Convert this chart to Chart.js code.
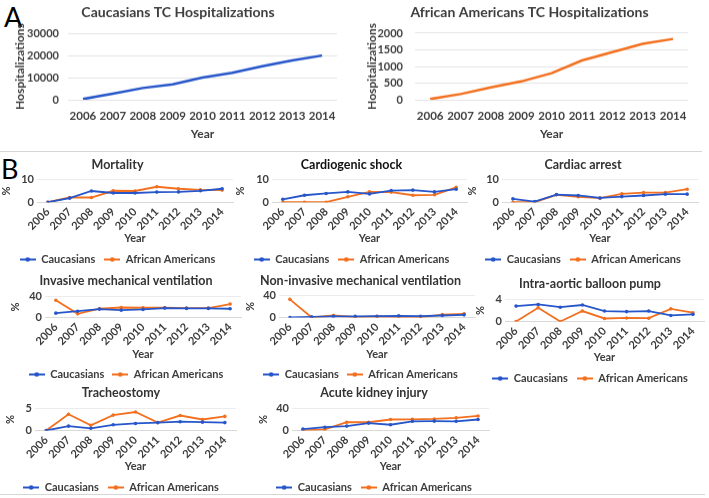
<!DOCTYPE html>
<html>
<head>
<meta charset="utf-8">
<script src="https://cdn.jsdelivr.net/npm/chart.js"></script>
<style>
    body{ margin:0; background:#fff; width:709px; height:498px; position:relative; overflow:hidden; font-family:Lato, sans-serif; }
    .box{ position:absolute; }
    .lbl{ position:absolute; font-size:27px; color:#000; line-height:1; }
    .sep{ position:absolute; height:1px; background:#d6d6d6; }
</style>
</head>
<body>
<div class="lbl" style="left:4px;top:3px">A</div>
<div class="lbl" style="left:1px;top:155px">B</div>
<div class="sep" style="left:0;top:151px;width:702px"></div>
<div class="sep" style="left:0;top:494px;width:705px"></div>

<div class="box" id="b_cauTC"><canvas id="cauTC"></canvas></div>
<div class="box" id="b_aaTC"><canvas id="aaTC"></canvas></div>
<div class="box" id="b_mort"><canvas id="mort"></canvas></div>
<div class="box" id="b_shock"><canvas id="shock"></canvas></div>
<div class="box" id="b_arrest"><canvas id="arrest"></canvas></div>
<div class="box" id="b_imv"><canvas id="imv"></canvas></div>
<div class="box" id="b_nimv"><canvas id="nimv"></canvas></div>
<div class="box" id="b_iabp"><canvas id="iabp"></canvas></div>
<div class="box" id="b_trach"><canvas id="trach"></canvas></div>
<div class="box" id="b_aki"><canvas id="aki"></canvas></div>

<script>
    const years = ['2006', '2007', '2008', '2009', '2010', '2011', '2012', '2013', '2014'];

    // panel A: hospitalizations
    const cauHosp = [300, 2700, 5300, 7000, 10000, 12200, 15200, 17800, 20000];
    const aaHosp = [20, 170, 370, 550, 800, 1180, 1430, 1680, 1830];
    const cauHospTicks = [0, 10000, 20000, 30000];
    const aaHospTicks = [0, 500, 1000, 1500, 2000];

    // panel B: outcomes in %
    const mortCau = [0, 1.8, 5, 4.1, 4.1, 4.5, 4.6, 5.1, 6];
    const mortAA = [0, 2.1, 2.1, 5.1, 5, 6.9, 6, 5.5, 5.4];
    const shockCau = [1.3, 3.1, 3.9, 4.6, 3.7, 5.2, 5.4, 4.6, 5.8];
    const shockAA = [0, 0, 0, 2.4, 4.6, 4.5, 3.1, 3.3, 6.6];
    const arrestCau = [1.5, 0.3, 3.4, 3, 1.9, 2.5, 3, 3.6, 3.6];
    const arrestAA = [0, 0, 3.3, 2.4, 1.8, 3.7, 4.3, 4.3, 5.8];
    const imvCau = [8.3, 12, 16, 14, 15.4, 18, 17.3, 17.3, 16.7];
    const imvAA = [33, 7, 16.7, 19, 18.6, 18.6, 18, 18, 25.6];
    const nimvCau = [0, 1.2, 2, 2, 2.4, 3, 2.4, 3.6, 4.8];
    const nimvAA = [33, 0, 3.6, 0.5, 1.8, 0.6, 0.3, 5.4, 6.6];
    const iabpCau = [2.8, 3.1, 2.6, 3, 1.9, 1.8, 1.9, 1.1, 1.3];
    const iabpAA = [0, 2.5, 0, 1.9, 0.55, 0.65, 0.6, 2.3, 1.6];
    const trachCau = [0, 1, 0.5, 1.3, 1.6, 1.8, 2, 1.9, 1.8];
    const trachAA = [0, 3.7, 1.2, 3.5, 4.2, 1.8, 3.4, 2.5, 3.2];
    const akiCau = [2.5, 6, 8, 13.5, 10.5, 16.7, 17, 16.7, 20];
    const akiAA = [0, 2, 15, 15, 20, 20.4, 21, 23, 26.5];

    const ticks10 = [0, 5, 10];
    const ticks40 = [0, 20, 40];
    const ticks4 = [0, 2, 4];
    const ticks5 = [0, 5];

    const BLUE = '#2656c9';
    const ORANGE = '#f2701f';
    const TXT = '#3d3d3d';
    const FONT = 'Lato, sans-serif';

    // little "line with a dot" swatch for the legend, like excel
    function swatch(color){
        const c = document.createElement('canvas');
        c.width = 16; c.height = 7;
        const g = c.getContext('2d');
        g.strokeStyle = color; g.lineWidth = 2;
        g.beginPath(); g.moveTo(0, 3.5); g.lineTo(16, 3.5); g.stroke();
        g.fillStyle = color;
        g.beginPath(); g.arc(8, 3.5, 2.3, 0, Math.PI * 2); g.fill();
        return c;
    }
    const swatches = [swatch(BLUE), swatch(ORANGE)];

    function place(id, left, top, width, height){
        const b = document.getElementById('b_' + id);
        b.style.left = left + 'px';
        b.style.top = top + 'px';
        b.style.width = width + 'px';
        b.style.height = height + 'px';
    }

    function bigChart(id, g, title, data, color, tks){
        const tLH = 14 * 1.2;
        const top = g.titleY - tLH / 2;
        const left = g.plotLeft - g.yW;
        const xH = g.yearY + 7.2 - g.plotBottom;
        const height = g.plotBottom + xH - top;
        place(id, left, top, g.plotRight + 2 - left, height);
        new Chart(document.getElementById(id), {
            type: 'line',
            data: {
                labels: years,
                datasets: [{ data: data, borderColor: color, borderWidth: 2.5, pointRadius: 0, tension: 0, fill: false }]
            },
            options: {
                responsive: true, maintainAspectRatio: false, animation: false,
                layout: { padding: { left: 0, right: 2, top: 0, bottom: 0 } },
                plugins: {
                    legend: { display: false },
                    tooltip: { enabled: false },
                    title: { display: true, text: title, color: TXT,
                        font: { family: FONT, size: 14, weight: 'bold' },
                        padding: { top: 0, bottom: g.plotTop - (top + tLH) } }
                },
                scales: {
                    x: {
                        offset: true,
                        grid: { display: false, drawTicks: false },
                        border: { display: false },
                        ticks: { color: TXT, font: { family: FONT, size: 11.5, weight: 'bold' }, padding: 9.5, maxRotation: 0, minRotation: 0, autoSkip: false },
                        title: { display: true, text: 'Year', color: TXT, font: { family: FONT, size: 12, weight: 'bold' }, padding: 0 },
                        afterFit: s => { s.height = xH; }
                    },
                    y: {
                        min: tks[0], max: tks[tks.length - 1],
                        grid: { color: '#e4e4e4', drawTicks: false },
                        border: { display: false },
                        ticks: { stepSize: tks[1] - tks[0], color: TXT, font: { family: FONT, size: 11, weight: 'bold' }, padding: g.tickPad,
                            callback: v => String(v) },
                        title: { display: true, text: 'Hospitalizations', color: TXT, font: { family: FONT, size: 12, weight: 'bold' }, padding: 0 },
                        afterFit: s => { s.width = g.yW; }
                    }
                }
            }
        });
    }

    function smallChart(id, g, title, cau, aa, tks, heavy){
        const fs = 12.5;
        const tLH = fs * 1.2;
        const top = g.titleY - tLH / 2;
        const left = g.plotLeft - g.yW;
        const xH = g.yearY + 6.6 - g.plotBottom;
        const legTop = g.plotBottom + xH;
        const lp = g.legendY - legTop - 5.5;
        const height = legTop + 11 + lp + 10 - top;
        place(id, left, top, g.plotRight + 2 - left, height);
        new Chart(document.getElementById(id), {
            type: 'line',
            data: {
                labels: years,
                datasets: [
                    { label: 'Caucasians', data: cau, borderColor: BLUE, backgroundColor: BLUE, borderWidth: 1.8, pointRadius: 1.8, pointBorderWidth: 0, tension: 0 },
                    { label: 'African Americans', data: aa, borderColor: ORANGE, backgroundColor: ORANGE, borderWidth: 1.8, pointRadius: 1.8, pointBorderWidth: 0, tension: 0 }
                ]
            },
            options: {
                responsive: true, maintainAspectRatio: false, animation: false,
                layout: { padding: { left: 0, right: 2, top: 0, bottom: 0 } },
                plugins: {
                    tooltip: { enabled: false },
                    title: { display: true, text: title, color: heavy ? '#111' : '#333',
                        font: { family: FONT, size: fs, weight: 'bold' },
                        padding: { top: 0, bottom: g.plotTop - (top + tLH) } },
                    legend: {
                        position: 'bottom',
                        labels: {
                            color: TXT, font: { family: FONT, size: 11, weight: 'bold' },
                            padding: lp, usePointStyle: true, pointStyleWidth: 16,
                            generateLabels: chart => Chart.defaults.plugins.legend.labels.generateLabels(chart)
                                .map((it, i) => Object.assign(it, { pointStyle: swatches[i] }))
                        }
                    }
                },
                scales: {
                    x: {
                        offset: true,
                        grid: { display: false, drawTicks: false },
                        border: { color: '#d9d9d9' },
                        ticks: { color: TXT, font: { family: FONT, size: 11, weight: 'bold' }, padding: 3, maxRotation: 45, minRotation: 45, autoSkip: false },
                        title: { display: true, text: 'Year', color: TXT, font: { family: FONT, size: 11, weight: 'bold' }, padding: 0 },
                        afterFit: s => { s.height = xH; }
                    },
                    y: {
                        min: tks[0], max: tks[tks.length - 1],
                        grid: { color: '#ececec', drawTicks: false },
                        border: { display: false },
                        ticks: { stepSize: tks[1] - tks[0], color: TXT, font: { family: FONT, size: 11, weight: 'bold' }, padding: 3 },
                        title: { display: true, text: '%', color: TXT, font: { family: FONT, size: 11, weight: 'bold' }, padding: 0 },
                        afterFit: s => { s.width = g.yW; }
                    }
                }
            }
        });
    }

    bigChart('cauTC', { titleY: 12.7, plotLeft: 68, plotRight: 343, plotTop: 33.5, plotBottom: 99.3, yearY: 133, yW: 55, tickPad: 9 },
        'Caucasians TC Hospitalizations', cauHosp, BLUE, cauHospTicks);
    bigChart('aaTC', { titleY: 12.7, plotLeft: 415, plotRight: 694, plotTop: 33.3, plotBottom: 99.3, yearY: 133, yW: 50, tickPad: 12 },
        'African Americans TC Hospitalizations', aaHosp, ORANGE, aaHospTicks);

    const row1 = { titleY: 164, plotTop: 179.3, plotBottom: 201.7, yearY: 238, legendY: 259 };
    const row2 = { titleY: 280, plotTop: 296, plotBottom: 317, yearY: 354, legendY: 374 };
    const row3 = { titleY: 392, plotTop: 408, plotBottom: 430, yearY: 466, legendY: 487 };

    smallChart('mort', Object.assign({ plotLeft: 37, plotRight: 235, yW: 37 }, row1), 'Mortality', mortCau, mortAA, ticks10);
    smallChart('shock', Object.assign({ plotLeft: 272, plotRight: 469, yW: 38 }, row1), 'Cardiogenic shock', shockCau, shockAA, ticks10, true);
    smallChart('arrest', Object.assign({ plotLeft: 502, plotRight: 700, yW: 36 }, row1), 'Cardiac arrest', arrestCau, arrestAA, ticks10);

    smallChart('imv', Object.assign({ plotLeft: 45, plotRight: 243, yW: 36 }, row2), 'Invasive mechanical ventilation', imvCau, imvAA, ticks40);
    smallChart('nimv', Object.assign({ plotLeft: 279, plotRight: 477, yW: 35 }, row2, { plotTop: 295 }), 'Non-invasive mechanical ventilation', nimvCau, nimvAA, ticks40);
    smallChart('iabp', { plotLeft: 505, plotRight: 706, yW: 31, titleY: 283, plotTop: 299, plotBottom: 321, yearY: 357, legendY: 378 },
        'Intra-aortic balloon pump', iabpCau, iabpAA, ticks4);

    smallChart('trach', Object.assign({ plotLeft: 35, plotRight: 238, yW: 31 }, row3), 'Tracheostomy', trachCau, trachAA, ticks5);
    smallChart('aki', Object.assign({ plotLeft: 292, plotRight: 491, yW: 35 }, row3), 'Acute kidney injury', akiCau, akiAA, ticks40);
</script>
</body>
</html>
